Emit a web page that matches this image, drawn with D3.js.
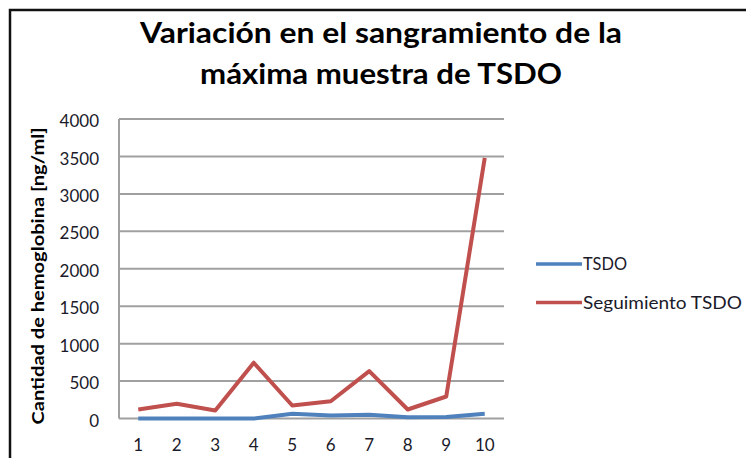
<!DOCTYPE html>
<html lang="es">
<head>
    <meta charset="UTF-8">
    <title>Variación en el sangramiento</title>
    <script src="https://d3js.org/d3.v7.min.js"></script>
    <style>
        body { margin: 0; background: #fff; font-family: Lato, "Open Sans", sans-serif; }
        svg { display: block; }
        .grid line { stroke: #a0a0a0; stroke-width: 2; }
        .axis text { font-size: 17px; fill: #1a1a2a; }
    </style>
</head>
<body>
    <svg width="746" height="458"></svg>

    <script>
        // datos
        const muestras = ["1", "2", "3", "4", "5", "6", "7", "8", "9", "10"];
        const tsdo = [0, 0, 0, 0, 62, 40, 50, 18, 20, 62];
        const seguimiento = [120, 196, 107, 745, 174, 231, 633, 120, 294, 3480];
        const yTicks = [0, 500, 1000, 1500, 2000, 2500, 3000, 3500, 4000];

        const series = [
            { name: "TSDO", values: tsdo, color: "#4f81bd" },
            { name: "Seguimiento TSDO", values: seguimiento, color: "#c0504d" }
        ];

        const svg = d3.select("svg");

        // marco
        svg.append("path")
            .attr("d", "M10,458 V10 H746")
            .attr("fill", "none")
            .attr("stroke", "#111")
            .attr("stroke-width", 2.5);

        // título
        const title = svg.append("g")
            .attr("font-weight", "bold")
            .attr("font-size", 28)
            .attr("text-anchor", "middle")
            .attr("fill", "#000");
        title.append("text").attr("x", 381).attr("y", 43)
            .attr("textLength", 482).attr("lengthAdjust", "spacingAndGlyphs")
            .text("Variación  en el sangramiento  de la");
        title.append("text").attr("x", 381).attr("y", 84)
            .attr("textLength", 362).attr("lengthAdjust", "spacingAndGlyphs")
            .text("máxima muestra  de TSDO");

        const x = d3.scaleBand().domain(muestras).range([119, 504]);
        const y = d3.scaleLinear().domain([0, 4000]).range([418.5, 119]);

        // rejilla
        svg.append("g").attr("class", "grid")
            .selectAll("line")
            .data(yTicks)
            .join("line")
            .attr("x1", 119).attr("x2", 504)
            .attr("y1", d => y(d)).attr("y2", d => y(d));

        svg.append("line")
            .attr("x1", 119).attr("x2", 119)
            .attr("y1", y(0)).attr("y2", y(4000))
            .attr("stroke", "#a0a0a0").attr("stroke-width", 2);

        // ejes
        const yAxis = svg.append("g").attr("class", "axis")
            .attr("transform", "translate(119,0)")
            .call(d3.axisLeft(y).tickValues(yTicks).tickFormat(d3.format("d")).tickSize(0).tickPadding(20));
        yAxis.select(".domain").remove();
        yAxis.selectAll("text").attr("font-family", "Lato, sans-serif").attr("dy", "0.45em");

        const xAxis = svg.append("g").attr("class", "axis")
            .attr("transform", `translate(0,${y(0)})`)
            .call(d3.axisBottom(x).tickSize(0).tickPadding(20));
        xAxis.select(".domain").remove();
        xAxis.selectAll("text").attr("font-family", "Lato, sans-serif");

        svg.append("text")
            .attr("transform", "translate(44,276) rotate(-90)")
            .attr("text-anchor", "middle")
            .attr("font-weight", "bold")
            .attr("font-size", 17)
            .attr("textLength", 297).attr("lengthAdjust", "spacingAndGlyphs")
            .text("Cantidad  de hemoglobina  [ng/ml]");

        // líneas
        const line = d3.line()
            .x((d, i) => x(muestras[i]) + x.bandwidth() / 2)
            .y(d => y(d));

        svg.append("g")
            .selectAll("path")
            .data(series)
            .join("path")
            .attr("fill", "none")
            .attr("stroke", d => d.color)
            .attr("stroke-width", 4)
            .attr("stroke-linejoin", "round")
            .attr("d", d => line(d.values));

        // leyenda
        const legend = svg.append("g")
            .selectAll("g")
            .data(series)
            .join("g")
            .attr("transform", (d, i) => `translate(536,${264 + i * 38.5})`);
        legend.append("line")
            .attr("x1", 0).attr("x2", 46)
            .attr("stroke", d => d.color)
            .attr("stroke-width", 3.5);
        legend.append("text")
            .attr("x", 47)
            .attr("dy", "0.36em")
            .attr("font-size", 17)
            .attr("fill", "#1a1a2a")
            .attr("textLength", (d, i) => i === 0 ? 44 : 159)
            .attr("lengthAdjust", "spacingAndGlyphs")
            .text(d => d.name);
    </script>
</body>
</html>
